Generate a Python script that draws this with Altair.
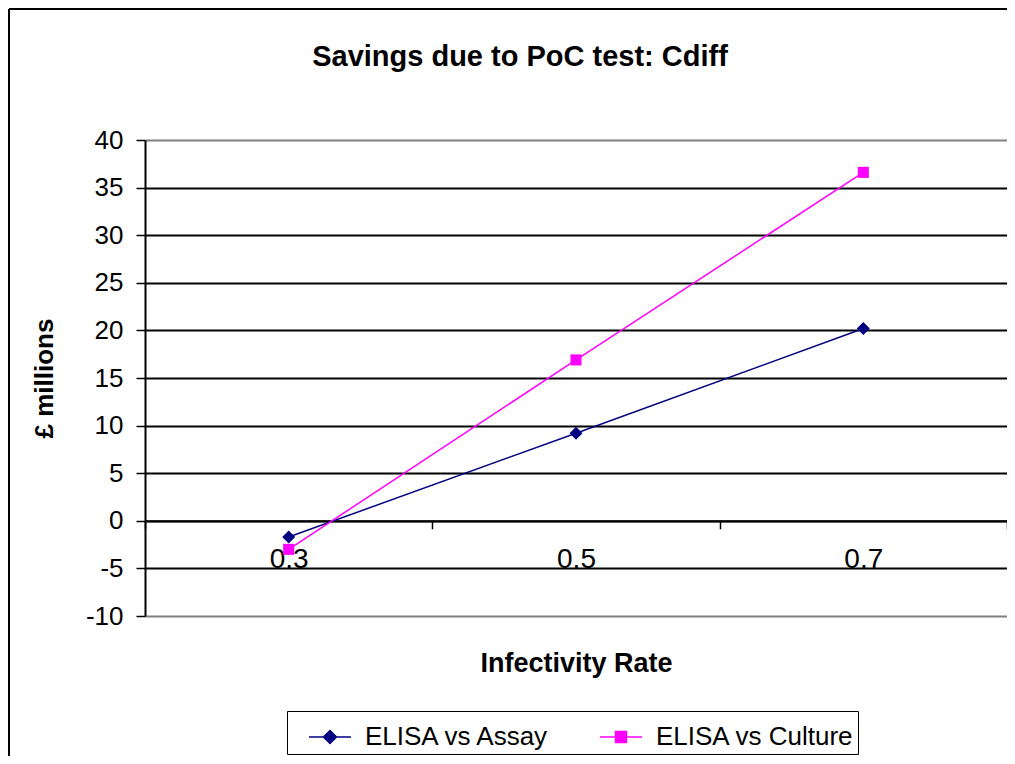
import altair as alt
import pandas as pd

# ---- data ----
rates = ["0.3", "0.5", "0.7"]
elisa_vs_assay = [-1.7, 9.2, 20.2]
elisa_vs_culture = [-3.0, 16.9, 36.6]
series_names = ["ELISA vs Assay", "ELISA vs Culture"]
series_colors = ["#000080", "#FF00FF"]
y_ticks = [-10, -5, 0, 5, 10, 15, 20, 25, 30, 35, 40]

rows = []
for name, vals in zip(series_names, [elisa_vs_assay, elisa_vs_culture]):
    for r, v in zip(rates, vals):
        rows.append({"rate": r, "value": v, "series": name})
df = pd.DataFrame(rows)

W, H = 862, 476
Y_MIN, Y_MAX = -10, 40
FONT = "Liberation Sans"

# marker shapes (points) and legend symbols (line + marker)
diamond = "M0,-1L1,0L0,1L-1,0Z"
square = "M-0.85,-0.85H0.85V0.85H-0.85Z"
leg_diamond = "M-1,0H1M0,-0.31L0.31,0L0,0.31L-0.31,0Z"
leg_square = "M-1,0H1M-0.26,-0.26H0.26V0.26H-0.26Z"

zero_offset = -H * (0 - Y_MIN) / (Y_MAX - Y_MIN)

x_enc = alt.X(
    "rate:N", sort=rates,
    scale=alt.Scale(type="band", paddingInner=0, paddingOuter=0),
    axis=alt.Axis(
        title="Infectivity Rate", titleFont=FONT, titleFontSize=27, titleFontWeight="bold",
        titleColor="black", titlePadding=77,
        labelFont=FONT, labelFontSize=28, labelColor="black", labelAngle=0, labelPadding=17,
        domainColor="black", domainWidth=2, tickColor="black", tickWidth=1.5, tickSize=8,
        tickBand="extent", grid=False, offset=zero_offset,
    ),
)
y_enc = alt.Y(
    "value:Q",
    scale=alt.Scale(domain=[Y_MIN, Y_MAX], nice=False, zero=False),
    axis=alt.Axis(
        values=y_ticks, title="£ millions", titleFont=FONT, titleFontSize=26,
        titleFontWeight="bold", titleColor="black", titlePadding=28,
        labelFont=FONT, labelFontSize=26, labelColor="black", labelPadding=13,
        labelExpr="'' + datum.value",
        domainColor="black", domainWidth=2, tickColor="black", tickWidth=1.5, tickSize=9,
        grid=True, gridWidth=2,
        gridColor={"condition": {"test": "datum.value === 40 || datum.value === -10",
                                 "value": "#808080"}, "value": "black"},
    ),
)

def col(legend=None):
    return alt.Color("series:N", scale=alt.Scale(domain=series_names, range=series_colors),
                     legend=legend)

base = alt.Chart(df)

frame_df = pd.DataFrame({"k": [0]})
border_top = alt.Chart(frame_df).mark_rule(color="black", strokeWidth=2).encode(
    x=alt.value(-136), x2=alt.value(1200), y=alt.value(-131))
border_left = alt.Chart(frame_df).mark_rule(color="black", strokeWidth=2).encode(
    x=alt.value(-136), y=alt.value(-131), y2=alt.value(1200))

line = base.mark_line(strokeWidth=1.5).encode(x=x_enc, y=y_enc, color=col())

points = base.mark_point(filled=True, size=169, opacity=1).encode(
    x=x_enc, y=y_enc, color=col(),
    shape=alt.Shape("series:N", scale=alt.Scale(domain=series_names, range=[diamond, square]),
                    legend=None),
)

leg = alt.Legend(
    title=None, orient="none", legendX=142, legendY=571, direction="horizontal", columns=2,
    labelFont=FONT, labelFontSize=26, labelColor="black", labelOffset=13, columnPadding=32,
    labelLimit=0,
    symbolSize=1764, symbolStrokeWidth=1.5, symbolOpacity=1, symbolOffset=17,
    strokeColor="black", padding=4, fillColor="white",
)

legend_layer = base.mark_point(filled=False, opacity=0).encode(
    x=x_enc, y=y_enc,
    fill=alt.Fill("series:N", scale=alt.Scale(domain=series_names, range=series_colors), legend=leg),
    stroke=alt.Stroke("series:N", scale=alt.Scale(domain=series_names, range=series_colors), legend=leg),
    shape=alt.Shape("series:N", scale=alt.Scale(domain=series_names, range=[leg_diamond, leg_square]),
                    legend=leg),
)

chart = alt.layer(border_top, border_left, line, points, legend_layer).resolve_scale(
    shape="independent", color="independent", fill="independent", stroke="independent"
).properties(
    width=W, height=H,
    title=alt.TitleParams(
        "Savings due to PoC test: Cdiff", font=FONT, fontSize=29, fontWeight="bold",
        color="black", anchor="middle", frame="group", dx=-56, offset=-64,
    ),
    padding={"left": 137, "top": 132, "right": 0, "bottom": 140},
    autosize=alt.AutoSizeParams(type="none"),
).configure_view(
    fill="#C0C0C0", stroke="#808080", strokeWidth=2
).configure(background="white")

chart.save("out.html", embed_options={"renderer": "svg", "actions": False})
